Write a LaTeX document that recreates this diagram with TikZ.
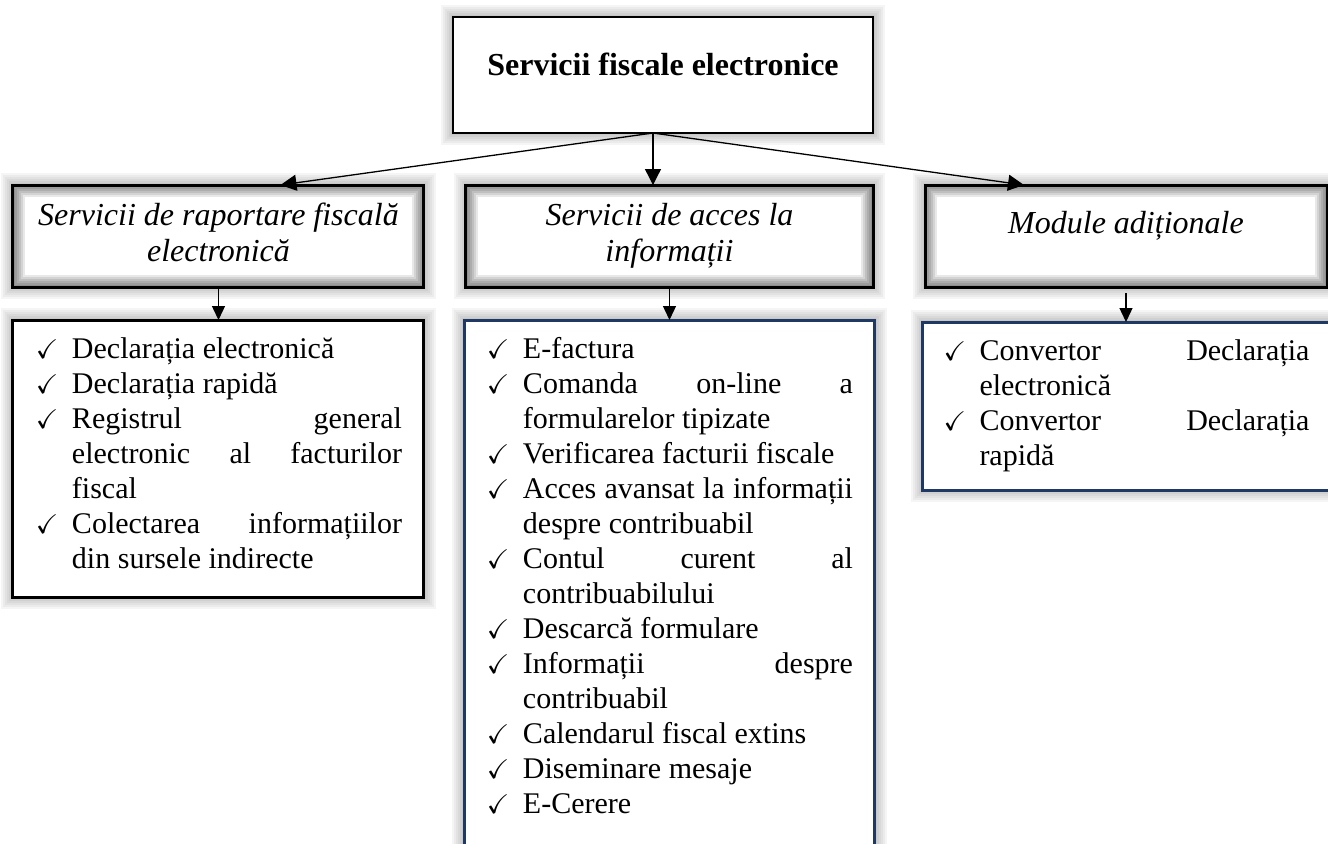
\documentclass[tikz,border=0pt]{standalone}
\usepackage{fontspec}
\setmainfont{Liberation Serif}
\usepackage{amssymb}
\usepackage{xcolor}
\usetikzlibrary{arrows.meta,positioning,backgrounds}

\definecolor{navy}{HTML}{1F3864}

\newcommand{\listfont}{\fontsize{15}{17.5}\selectfont\hyphenpenalty=10000\exhyphenpenalty=10000\tolerance=10000\hbadness=10000}
\newcommand{\checkitem}{\par\noindent\hangindent=18.5pt\hangafter=1\makebox[18.5pt][l]{\hspace{0.5pt}{\fontsize{13.5}{13.5}\selectfont$\checkmark$}}\strut\ignorespaces}

\begin{document}
\begin{tikzpicture}[
    headbox/.style={rectangle, draw, line width=1.3pt, fill=white, minimum width=210pt, minimum height=58pt, outer sep=0pt, font=\fontsize{16}{18}\selectfont\bfseries},
    groupbox/.style={rectangle, draw, line width=1.5pt, fill=white, minimum height=51pt, outer sep=0pt, align=center, font=\fontsize{16}{18}\selectfont\itshape,
        path picture={\foreach \w in {2,4,...,12} {\draw[black, opacity=.09, line width=\w pt] (path picture bounding box.south west) rectangle (path picture bounding box.north east);}}},
    listbox/.style={rectangle, draw, line width=1.5pt, fill=white, inner xsep=10pt, inner ysep=6.75pt, outer sep=0pt},
    arrow/.style={-{Triangle[length=7pt,width=6.5pt]}, line width=0.65pt},
    bigarrow/.style={-{Triangle[length=8pt,width=8pt]}, line width=0.65pt}
]
\useasboundingbox (-331.5pt,37.5pt) rectangle (332.5pt,-384pt);

% Nodes
\node[headbox] (root) at (0,0) {\raisebox{5.5pt}[\height][\depth]{Servicii fiscale electronice}};
\node[groupbox, minimum width=203.5pt, below=26pt of root, xshift=3.25pt] (acces) {Servicii de acces la\strut\\informații\strut};
\node[groupbox, minimum width=205.5pt, left=21pt of acces] (raport) {Servicii de raportare fiscală\strut\\electronică\strut};
\node[groupbox, minimum width=201pt, right=26pt of acces] (module) {\raisebox{5pt}[\height][\depth]{Module adiționale\strut}};

\node[listbox, minimum width=205.5pt, below=16.5pt of raport] (lista) {\parbox[t][125pt][t]{183.5pt}{\listfont
\checkitem Declarația electronică
\checkitem Declarația rapidă
\checkitem Registrul general\linebreak electronic al facturilor\linebreak fiscal
\checkitem Colectarea informațiilor\linebreak din sursele indirecte}};
\node[listbox, draw=navy, minimum width=205pt, below=16.5pt of acces] (listm) {\parbox[t][261.5pt][t]{183.5pt}{\listfont
\checkitem E-factura
\checkitem Comanda on-line a\linebreak formularelor tipizate
\checkitem Verificarea facturii fiscale
\checkitem Acces avansat la informații\linebreak despre contribuabil
\checkitem Contul curent al\linebreak contribuabilului
\checkitem Descarcă formulare
\checkitem Informații despre\linebreak contribuabil
\checkitem Calendarul fiscal extins
\checkitem Diseminare mesaje
\checkitem E-Cerere}};
\node[listbox, draw=navy, minimum width=202pt, below=17.5pt of module] (listr) {\parbox[t][70.5pt][t]{183.5pt}{\listfont
\checkitem Convertor Declarația\linebreak electronică
\checkitem Convertor Declarația\linebreak rapidă}};

% Arrows
\coordinate (hub) at ([xshift=-5pt]root.south);
\draw[bigarrow] (hub) -- ([xshift=31pt]raport.north);
\draw[bigarrow] (hub) -- (hub |- acces.north);
\draw[bigarrow] (hub) -- ([xshift=-51pt]module.north);
\draw[arrow] (raport) -- (lista);
\draw[arrow] (acces) -- (listm);
\draw[arrow] ([yshift=-3pt]module.south) -- (listr);

% soft shadows
\begin{scope}[on background layer]
\foreach \n in {root,raport,acces,module,lista,listm,listr} {
    \foreach \w in {2,4,...,12} {
        \draw[line width=\w pt, black, opacity=.04] (\n.south west) rectangle (\n.north east);
    }
}
\end{scope}

\end{tikzpicture}
\end{document}
